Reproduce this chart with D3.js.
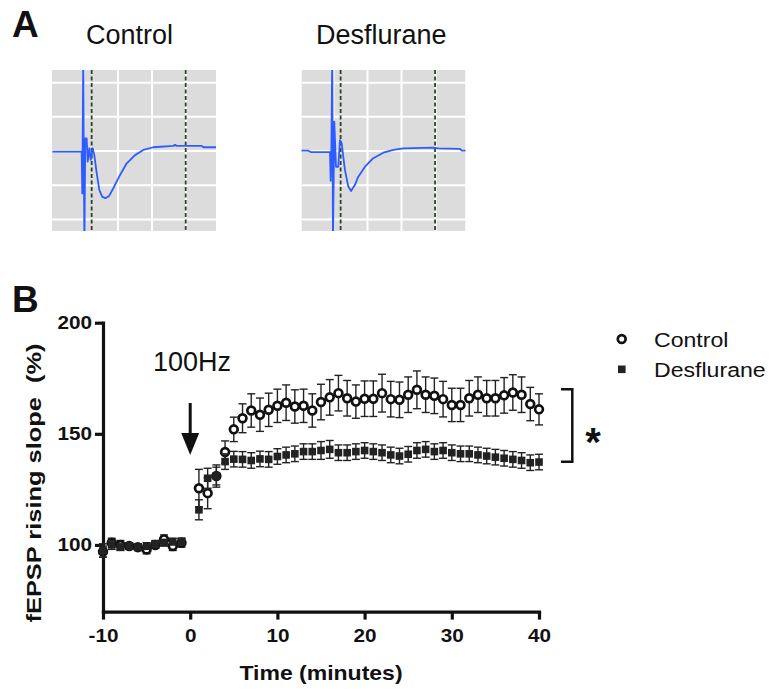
<!DOCTYPE html>
<html>
<head>
<meta charset="utf-8">
<script src="https://cdn.jsdelivr.net/npm/d3@7"></script>
<style>
body { margin: 0; background: #fff; }
text { font-family: "Liberation Sans", Arial, sans-serif; fill: #111; }
</style>
</head>
<body>
<div id="chart"></div>
<script>
var ctx = {
    w: 773,
    h: 689
};

// panel B data (time in minutes, % of baseline)
var timeMin = [-10, -9, -8, -7, -6, -5, -4, -3, -2, -1,
    1, 2, 3, 4, 5, 6, 7, 8, 9, 10, 11, 12, 13, 14, 15, 16, 17, 18, 19, 20,
    21, 22, 23, 24, 25, 26, 27, 28, 29, 30, 31, 32, 33, 34, 35, 36, 37, 38, 39, 40];
var controlMean = [97, 101, 100, 99.5, 99, 98, 100, 102.5, 99.5, 101,
    125.5, 123.3, 131, 141.8, 152, 157, 160.5, 158.6, 160.8, 162.6, 164, 162.3, 162.6, 160.5, 164.3, 166.4, 168.3, 166, 164.5, 165.8,
    165.8, 168.3, 165.6, 165.3, 167.6, 169.8, 167.6, 167.1, 165.6, 163, 163, 166, 167.6, 166, 166, 167.3, 168.6, 167.6, 163.4, 161];
var controlSem = [2.5, 2, 2, 1.5, 1.5, 2, 1.5, 2, 2, 2,
    8.5, 7, 5, 5, 5.5, 6.5, 7.5, 7.5, 7.5, 7.5, 8, 7.5, 7.5, 7.5, 8, 8, 8, 8, 7.5, 8,
    8, 8.5, 8, 8, 8, 8.5, 8, 8, 8, 7.5, 7.5, 8, 8, 8, 8, 8, 8, 8, 7.5, 7];
var desfluraneMean = [97.5, 100, 99, 99.5, 99, 99.5, 100.5, 101, 101.5, 101.5,
    115.8, 130, 131, 137.5, 138.6, 138.5, 138, 138.7, 138.5, 139.8, 140.5, 141, 142, 142, 142.5, 143, 141.5, 141.5, 142, 142.5,
    142, 141.5, 140.5, 140, 140.8, 142.5, 143, 142, 142.5, 141.5, 141, 141, 140.5, 140, 139.5, 139, 138.5, 138, 137, 137.3];
var desfluraneSem = [3, 2, 1.5, 1.5, 1.5, 1.5, 1.5, 1.5, 1.5, 1.5,
    4.5, 4.5, 4, 3.5, 3.5, 3.5, 3.5, 3.5, 3.5, 3.5, 3.5, 3.5, 3.5, 3.5, 4, 4, 3.5, 3.5, 3.5, 3.5,
    3.5, 3.5, 3.5, 3.5, 3.5, 3.5, 3.5, 3.5, 3.5, 3.5, 3.5, 3.5, 3.5, 3.5, 3.5, 3.5, 3.5, 3.5, 3.5, 3.5];
var yTicks = [100, 150, 200];
var xTicks = [-10, 0, 10, 20, 30, 40];
var seriesNames = ["Control", "Desflurane"];

// panel A example traces: [ms, grid units]
var traceControl = [[-9.3, -0.02], [-0.68, -0.02], [-0.5, -1.24], [-0.2, 3], [0.1, -3], [0.38, 0.37], [0.79, 0.37],
    [1.09, -0.31], [1.56, 0.08], [1.97, -0.26], [2.56, 0.08], [3.03, -0.12], [3.74, -0.65], [4.5, -1.14],
    [5.38, -1.34], [6.26, -1.38], [7.35, -1.32], [8.62, -1.09], [10.6, -0.70], [12.56, -0.36], [15, -0.12],
    [17.44, 0.03], [20.38, 0.11], [26.26, 0.15], [26.76, 0.18], [27.26, 0.15], [34.6, 0.15], [35.1, 0.11], [38.9, 0.11]];
var traceDesflurane = [[-9.6, 0.01], [-7.41, 0.01], [-6.7, -0.03], [-1.03, -0.03], [-0.82, -0.87], [-0.65, -0.26],
    [-0.35, 3], [-0.15, -3], [0.24, 0.86], [0.74, -0.46], [1.41, -0.46], [1.91, 0.32], [2.41, 0.23], [2.88, -0.17],
    [3.38, -0.56], [4.35, -1.04], [5.15, -1.17], [6.32, -0.99], [7.29, -0.75], [9.26, -0.46], [11.7, -0.21],
    [14.65, -0.05], [17.6, 0.03], [20.5, 0.08], [29.35, 0.10], [30.8, 0.08], [37.2, 0.06], [37.7, 0.01], [38.9, 0.01]];
var traceGridX = [0, 10, 20, 30];
var traceGridY = [-2, -1, 0, 1, 2];
var cursorsControl = [2.26, 29.9];
var cursorsDesflurane = [2.1, 29.85];


var addText = function (g, x, y, str, o) {
    var tr = "translate(" + x + "," + y + ")";
    if (o.rot) tr += " rotate(" + o.rot + ")";
    tr += " scale(" + (o.sx || 1) + ",1)";
    var t = g.append("text")
        .attr("transform", tr)
        .attr("font-size", o.size)
        .attr("font-weight", o.bold ? "bold" : "normal")
        .attr("text-anchor", o.anchor || "start")
        .text(str);
    if (o.pre) t.style("white-space", "pre");
    return t;
};


var drawTrace = function (svg, id, left, trace, cursors) {
    var x = d3.scaleLinear().domain([-9.4, 38.8]).range([left, left + 164]);
    var y = d3.scaleLinear().domain([-2.34, 2.37]).range([231, 70]);

    svg.append("clipPath").attr("id", id)
        .append("rect")
        .attr("x", x.range()[0]).attr("y", 70)
        .attr("width", 164).attr("height", 161);

    var g = svg.append("g").attr("clip-path", "url(#" + id + ")");
    g.append("rect")
        .attr("x", x.range()[0]).attr("y", 70)
        .attr("width", 164).attr("height", 161)
        .style("fill", "#dcdcdc");

    g.selectAll(".gx").data(traceGridX).enter().append("line")
        .attr("x1", function (d) { return x(d); })
        .attr("x2", function (d) { return x(d); })
        .attr("y1", 70).attr("y2", 231)
        .style("stroke", "#fff").style("stroke-width", 2);
    g.selectAll(".gy").data(traceGridY).enter().append("line")
        .attr("y1", function (d) { return y(d); })
        .attr("y2", function (d) { return y(d); })
        .attr("x1", x.range()[0]).attr("x2", x.range()[1])
        .style("stroke", "#fff").style("stroke-width", 2);

    g.selectAll(".cur").data(cursors).enter().append("line")
        .attr("x1", function (d) { return x(d); })
        .attr("x2", function (d) { return x(d); })
        .attr("y1", 70).attr("y2", 231)
        .style("stroke", "#2a4426").style("stroke-width", 1.8)
        .style("stroke-dasharray", "4,2.5");

    var line = d3.line()
        .x(function (d) { return x(d[0]); })
        .y(function (d) { return y(d[1]); });
    g.append("path")
        .attr("d", line(trace))
        .style("fill", "none")
        .style("stroke", "#2f5cff")
        .style("stroke-width", 1.8)
        .style("stroke-linejoin", "round");
};


var createPlot = function (svg) {
    var x = d3.scaleLinear().domain([-10, 40]).range([103, 539]);
    var y = d3.scaleLinear().domain([70, 200]).range([611.6, 322.7]);
    var plain = function (d) { return String(d); };

    var yAxis = svg.append("g")
        .attr("transform", "translate(103,0)")
        .call(d3.axisLeft(y).tickValues(yTicks).tickFormat(plain).tickSize(8).tickSizeOuter(0).tickPadding(3));
    var xAxis = svg.append("g")
        .attr("transform", "translate(0,611.6)")
        .call(d3.axisBottom(x).tickValues(xTicks).tickFormat(plain).tickSize(8).tickSizeOuter(0).tickPadding(10));

    [xAxis, yAxis].forEach(function (a) {
        a.attr("font-family", "Liberation Sans, Arial, sans-serif")
            .attr("font-size", 18)
            .attr("font-weight", "bold");
        a.select(".domain").style("stroke", "#111").style("stroke-width", 3.2).style("stroke-linecap", "square");
        a.selectAll(".tick line").style("stroke", "#111").style("stroke-width", 3.2);
        a.selectAll(".tick text").style("fill", "#111");
    });
    xAxis.selectAll(".tick text").attr("transform", "scale(1.15,1)");
    yAxis.selectAll(".tick text").attr("x", -11 / 1.15).attr("transform", "scale(1.15,1)");

    var rows = timeMin.map(function (t, i) {
        return {
            t: t,
            c: controlMean[i], cs: controlSem[i],
            d: desfluraneMean[i], ds: desfluraneSem[i]
        };
    });

    var errorBars = function (key, semKey, cls) {
        var g = svg.append("g").attr("class", cls)
            .style("stroke", "#222").style("stroke-width", 1.4);
        var e = g.selectAll("g").data(rows).enter().append("g");
        e.append("line")
            .attr("x1", function (d) { return x(d.t); })
            .attr("x2", function (d) { return x(d.t); })
            .attr("y1", function (d) { return y(d[key] - d[semKey]); })
            .attr("y2", function (d) { return y(d[key] + d[semKey]); });
        [-1, 1].forEach(function (sgn) {
            e.append("line")
                .attr("x1", function (d) { return x(d.t) - 4; })
                .attr("x2", function (d) { return x(d.t) + 4; })
                .attr("y1", function (d) { return y(d[key] + sgn * d[semKey]); })
                .attr("y2", function (d) { return y(d[key] + sgn * d[semKey]); });
        });
    };

    errorBars("c", "cs", "err-control");
    svg.append("g").selectAll("circle")
        .data(rows).enter().append("circle")
        .attr("cx", function (d) { return x(d.t); })
        .attr("cy", function (d) { return y(d.c); })
        .attr("r", 3.9)
        .style("fill", "#fff")
        .style("stroke", "#111")
        .style("stroke-width", 2.7);

    errorBars("d", "ds", "err-desflurane");
    svg.append("g").selectAll("rect")
        .data(rows).enter().append("rect")
        .attr("x", function (d) { return x(d.t) - 3.8; })
        .attr("y", function (d) { return y(d.d) - 3.8; })
        .attr("width", 7.6)
        .attr("height", 7.6)
        .style("fill", "#222");

    // stimulus arrow
    var ax = x(0);
    svg.append("line")
        .attr("x1", ax).attr("x2", ax)
        .attr("y1", 403).attr("y2", 436)
        .style("stroke", "#111").style("stroke-width", 3);
    svg.append("path")
        .attr("d", "M" + (ax - 9) + ",433 L" + (ax + 9) + ",433 L" + ax + ",455 Z")
        .style("fill", "#111");
    addText(svg, 153, 371, "100Hz", { size: 27 });

    // axis titles
    addText(svg, 321, 680, "Time (minutes)", { size: 19.5, bold: true, sx: 1.18, anchor: "middle" });
    addText(svg, 41, 483, "fEPSP rising slope  (%)", { size: 20, bold: true, sx: 1.27, anchor: "middle", rot: -90, pre: true });

    // legend
    svg.append("circle")
        .attr("cx", 621.7).attr("cy", 339).attr("r", 3.9)
        .style("fill", "#fff").style("stroke", "#111").style("stroke-width", 2.7);
    svg.append("rect")
        .attr("x", 618).attr("y", 365.5).attr("width", 7.6).attr("height", 7.6)
        .style("fill", "#222");
    addText(svg, 654, 346.7, seriesNames[0], { size: 21, sx: 1.1 });
    addText(svg, 654, 376.7, seriesNames[1], { size: 21, sx: 1.1 });

    // significance bracket
    svg.append("path")
        .attr("d", "M561,389.3 H572.3 V461.7 H561")
        .style("fill", "none").style("stroke", "#111").style("stroke-width", 2.5);
    addText(svg, 593, 456, "*", { size: 40, bold: true, anchor: "middle" });
};


var createViz = function () {
    var svg = d3.select("#chart").append("svg")
        .attr("width", ctx.w)
        .attr("height", ctx.h);

    addText(svg, 12, 37, "A", { size: 37, bold: true });
    addText(svg, 12, 312, "B", { size: 37, bold: true });

    addText(svg, 86, 44, seriesNames[0], { size: 27 });
    addText(svg, 316, 44, seriesNames[1], { size: 27 });

    drawTrace(svg, "clipControl", 52, traceControl, cursorsControl);
    drawTrace(svg, "clipDesflurane", 301.5, traceDesflurane, cursorsDesflurane);

    createPlot(svg);
};

createViz();
</script>
</body>
</html>
